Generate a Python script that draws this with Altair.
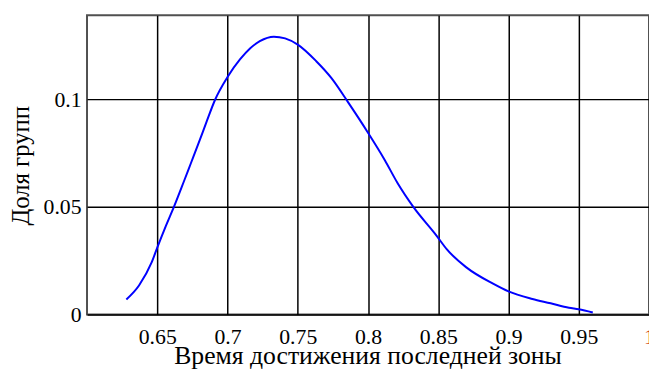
import altair as alt
import pandas as pd

# Curve (time to reach last zone vs share of groups)
x_vals = [0.628, 0.637, 0.646, 0.650, 0.656, 0.662, 0.669, 0.674, 0.679, 0.685,
          0.691, 0.700, 0.709, 0.716, 0.723, 0.733, 0.741, 0.750, 0.763, 0.774,
          0.786, 0.800, 0.812, 0.821, 0.832, 0.849, 0.856, 0.870, 0.889, 0.900,
          0.917, 0.930, 0.943, 0.950, 0.960]
y_vals = [0.0070, 0.0135, 0.0242, 0.0311, 0.0410, 0.0503, 0.0620, 0.0705, 0.0790, 0.0895,
          0.0997, 0.1105, 0.1188, 0.1238, 0.1272, 0.1293, 0.1285, 0.1256, 0.1180, 0.1100,
          0.0986, 0.0846, 0.0718, 0.0612, 0.0503, 0.0365, 0.0304, 0.0219, 0.0143, 0.0107,
          0.0072, 0.0052, 0.0031, 0.0024, 0.0009]

x_ticks = [0.65, 0.7, 0.75, 0.8, 0.85, 0.9, 0.95, 1.0]
y_ticks = [0, 0.05, 0.1]

x_title = "Время достижения последней зоны"
y_title = "Доля групп"

df = pd.DataFrame({"t": x_vals, "share": y_vals})

FONT = "Liberation Serif"

chart = alt.Chart(df).mark_line(color="#0000ff", strokeWidth=2, interpolate="monotone").encode(
    x=alt.X("t:Q",
            scale=alt.Scale(domain=[0.6, 1.0], nice=False, zero=False),
            axis=alt.Axis(values=x_ticks, format="~g", title=x_title,
                          grid=True, gridColor="black", gridWidth=1.5,
                          gridOpacity={"condition": {"test": "datum.value >= 1", "value": 0}, "value": 1},
                          labelColor={"condition": {"test": "datum.value >= 1", "value": "#d04010"}, "value": "black"},
                          ticks=False, domain=False,
                          labelFlush=False, labelOverlap=False, labelBound=False,
                          labelPadding=12,
                          titleBaseline="alphabetic", titleY=50, titleX=284)),
    y=alt.Y("share:Q",
            scale=alt.Scale(domain=[0, 0.1393], nice=False),
            axis=alt.Axis(values=y_ticks, format="~g", title=y_title,
                          grid=True, gridColor="black", gridWidth=1.5,
                          ticks=False, domain=False,
                          labelPadding=6, titleFontSize=25,
                          titleBaseline="middle", titleX=-67, titleY=152)),
).properties(
    width=569,
    height=303,
    autosize=alt.AutoSizeParams(type="none"),
    padding={"left": 80, "top": 5, "right": 0, "bottom": 56},
    background="white",
).configure_view(
    stroke="#505050", strokeWidth=2
).configure_axis(
    labelFont=FONT, labelFontSize=22, labelColor="black",
    titleFont=FONT, titleFontSize=26, titleFontWeight="normal", titleColor="black",
)

chart.save("out.html", embed_options={"renderer": "svg", "actions": False})
